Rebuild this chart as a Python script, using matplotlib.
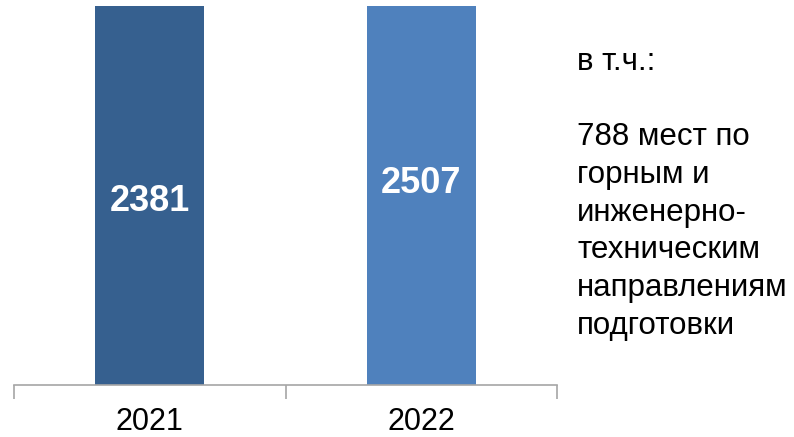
import matplotlib
matplotlib.use("Agg")
import matplotlib.pyplot as plt

years = ["2021", "2022"]
values = [2381, 2507]
colors = ["#36608F", "#4F81BD"]
label_y = [0.484, 0.532]  # label positions (axes fraction)
note_lines = ["в т.ч.:", "", "788 мест по", "горным и", "инженерно-",
              "техническим", "направлениям", "подготовки"]

plt.rcParams['font.family'] = ['Liberation Sans', 'DejaVu Sans']

fig = plt.figure(figsize=(7.94, 4.37), dpi=100)
ax = fig.add_axes([14/794, (437-385)/437, (557-14)/794, (385-6)/437])

x = list(range(len(years)))
ax.bar(x, values, width=0.40, color=colors, zorder=2)
ax.set_xlim(-0.5, 1.5)
ax.set_ylim(0, 1900)

for xi, v, ly in zip(x, values, label_y):
    ax.text(xi, ly, str(v), transform=ax.get_xaxis_transform(),
            ha='center', va='center', color='white', fontsize=26, fontweight='bold')

for s in ['top', 'right', 'left']:
    ax.spines[s].set_visible(False)
ax.spines['bottom'].set_color('#A6A6A6')
ax.spines['bottom'].set_linewidth(1.2)
ax.set_yticks([])
ax.set_xticks(x)
ax.set_xticklabels(years, fontsize=22)
ax.tick_params(axis='x', which='major', length=0, pad=16)
ax.set_xticks([-0.5, 0.5, 1.5], minor=True)
ax.tick_params(axis='x', which='minor', length=10, width=1.2, color='#A6A6A6')

for i, line in enumerate(note_lines):
    fig.text(577/794, (437 - 62 - i*37.7)/437, line, fontsize=22.5,
             ha='left', va='center', color='black')

fig.savefig("out.png", dpi=100)
